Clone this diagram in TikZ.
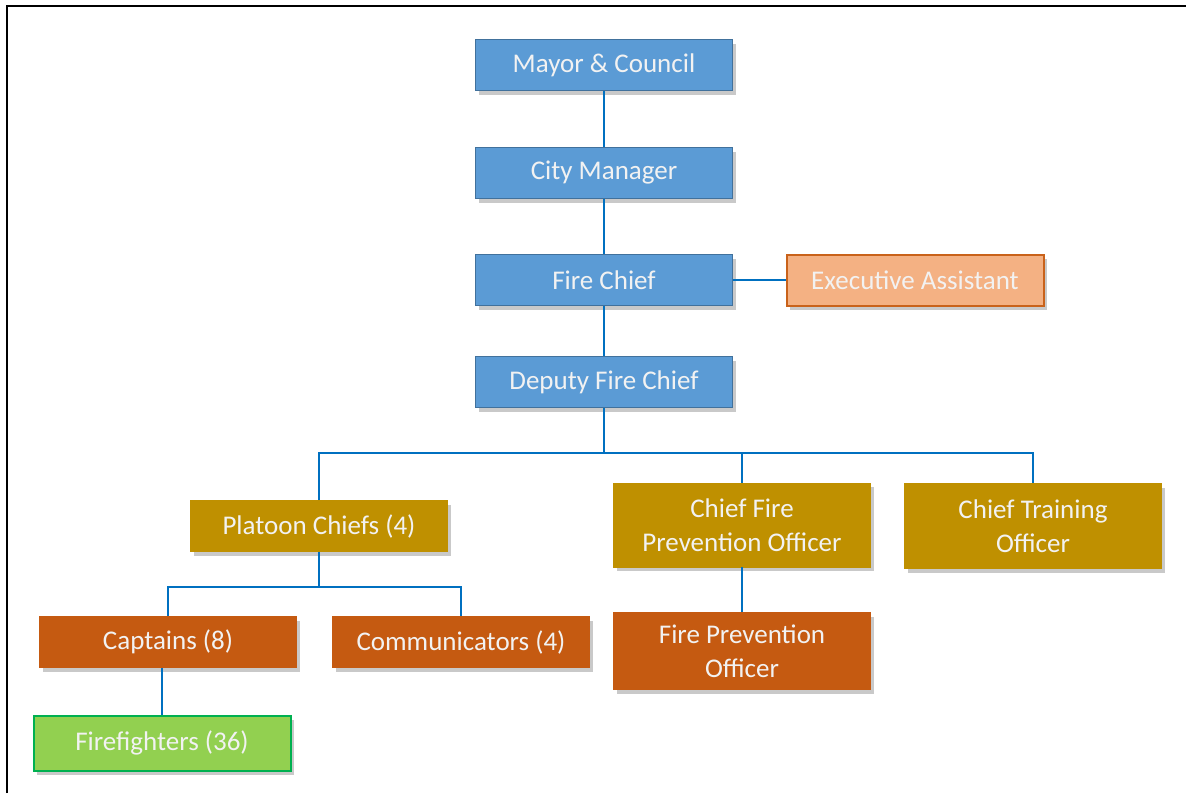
\documentclass[tikz,border=0pt]{standalone}
\usepackage{fontspec}
\setmainfont{Carlito}
\usetikzlibrary{positioning, shadows}

\definecolor{chiefblue}{HTML}{5B9BD5}
\definecolor{chiefedge}{HTML}{41719C}
\definecolor{assistfill}{HTML}{F4B183}
\definecolor{assistedge}{HTML}{C9621A}
\definecolor{officergold}{HTML}{BF9000}
\definecolor{crewrust}{HTML}{C55A11}
\definecolor{crewgreen}{HTML}{92D050}
\definecolor{crewedge}{HTML}{00B050}
\definecolor{linkblue}{HTML}{0070C0}

\begin{document}
\begin{tikzpicture}[x=1pt, y=-1pt, semithick,
    every node/.style={font=\fontsize{27}{34}\selectfont, text=white!95!black}]
	\tikzstyle{box}=[rectangle, align=center, inner sep=2pt, minimum width=257pt, minimum height=51pt,
	    drop shadow={shadow xshift=3pt, shadow yshift=-4pt, opacity=0.3, fill=black!70}]
	\tikzstyle{chief}=[box, fill=chiefblue, draw=chiefedge, line width=1.5pt]
	\tikzstyle{assist}=[box, fill=assistfill, draw=assistedge, line width=2pt]
	\tikzstyle{officer}=[box, fill=officergold, draw=officergold]
	\tikzstyle{crew}=[box, fill=crewrust, draw=crewrust]
	\tikzstyle{squad}=[box, fill=crewgreen, draw=crewedge, line width=2pt]
	\tikzstyle{link}=[draw=linkblue, line width=2.5pt]

	\useasboundingbox (0,0) rectangle (1186,793);
	\draw[line width=2.5pt] (7,793) -- (7,6) -- (1186,6);

	\node[chief] (mayor)    at (604,65)  {Mayor \& Council};
	\node[chief] (manager)  at (604,173) {City Manager};
	\node[chief] (firechief) at (604,280) {Fire Chief};
	\node[assist] (assistant) at (915,280) {Executive Assistant};
	\node[chief] (deputy)   at (604,382) {Deputy Fire Chief};

	\node[officer] (platoon)  at (319,526) {Platoon Chiefs (4)};
	\node[officer, minimum height=84pt] (prevchief) at (742,525) {Chief Fire\\Prevention Officer};
	\node[officer, minimum height=85pt] (training)  at (1033,526) {Chief Training\\Officer};

	\node[crew] (captains) at (168,642) {Captains (8)};
	\node[crew] (comms)    at (461,642) {Communicators (4)};
	\node[crew, minimum height=77pt] (prevofficer) at (742,651) {Fire Prevention\\Officer};
	\node[squad, minimum height=55pt] (firefighters) at (162,743) {Firefighters (36)};

	\coordinate (deputybus) at (604,453);
	\coordinate (platoonbus) at (319,587);

	\path[link] (mayor) edge (manager)
	    (manager) edge (firechief)
	    (firechief) edge (assistant)
	    (firechief) edge (deputy)
	    (deputy) edge (deputybus)
	    (prevchief) edge (prevchief |- deputybus)
	    (prevchief) edge (prevofficer)
	    (platoon) edge (platoonbus)
	    (firefighters) edge (firefighters |- captains.south);
	\draw[link] (platoon) |- (deputybus) -| (training);
	\draw[link] (captains) |- (platoonbus) -| (comms);
\end{tikzpicture}
\end{document}
